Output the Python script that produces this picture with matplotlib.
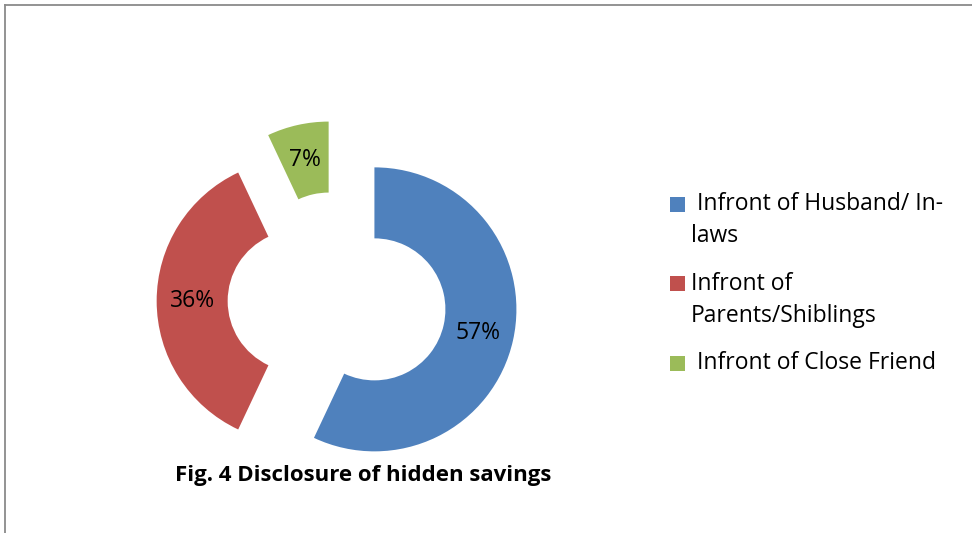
import matplotlib
matplotlib.use('Agg')
import matplotlib.pyplot as plt
from matplotlib.patches import Rectangle
from matplotlib.lines import Line2D

plt.rcParams['font.family'] = ['Open Sans', 'DejaVu Sans']

# data
categories = [' Infront of Husband/ In-\nlaws', 'Infront of\nParents/Shiblings', ' Infront of Close Friend']
values = [57, 36, 7]
colors = ['#4F81BD', '#C0504D', '#9BBB59']
title = 'Fig. 4 Disclosure of hidden savings'

W, H = 972, 533
fig = plt.figure(figsize=(W / 100, H / 100), dpi=100)

# pie centre and radius in pixels
cx, cy, R = 337, 301, 142
ax = fig.add_axes([0, 0, 1, 1])
wedges, texts, autotexts = ax.pie(values, colors=colors, startangle=90, counterclock=False,
                                  explode=[0.27] * len(values), radius=1,
                                  wedgeprops=dict(width=0.5, linewidth=0),
                                  autopct='%1.0f%%', pctdistance=0.75,
                                  textprops=dict(fontsize=16.5, color='black'))
ax.set_xlim(-cx / R, (W - cx) / R)
ax.set_ylim(-(H - cy) / R, cy / R)
ax.set_aspect('equal', adjustable='datalim')
ax.axis('off')


def fx(x):
    return x / W


def fy(y):
    return 1 - y / H


# legend drawn by hand so the box lines up with the first text line
y = 204
for lab, col in zip(categories, colors):
    fig.add_artist(Rectangle((fx(670), fy(y + 7.5)), 15 / W, 15 / H, transform=fig.transFigure,
                             facecolor=col, edgecolor='none'))
    lines = lab.split('\n')
    for i, ln in enumerate(lines):
        fig.text(fx(691), fy(y + i * 32.5), ln, fontsize=16.5, va='center', ha='left')
    y += (len(lines) - 1) * 32.5 + 47

fig.text(fx(363), fy(475), title, fontsize=16, fontweight='bold', ha='center', va='center')

# chart border (only top and left visible)
fig.add_artist(Line2D([fx(4.5), fx(4.5)], [fy(5), 0], transform=fig.transFigure, color='#8a8a8a', lw=1.3))
fig.add_artist(Line2D([fx(4.5), 1], [fy(5), fy(5)], transform=fig.transFigure, color='#8a8a8a', lw=1.3))

fig.savefig('out.png', dpi=100)
